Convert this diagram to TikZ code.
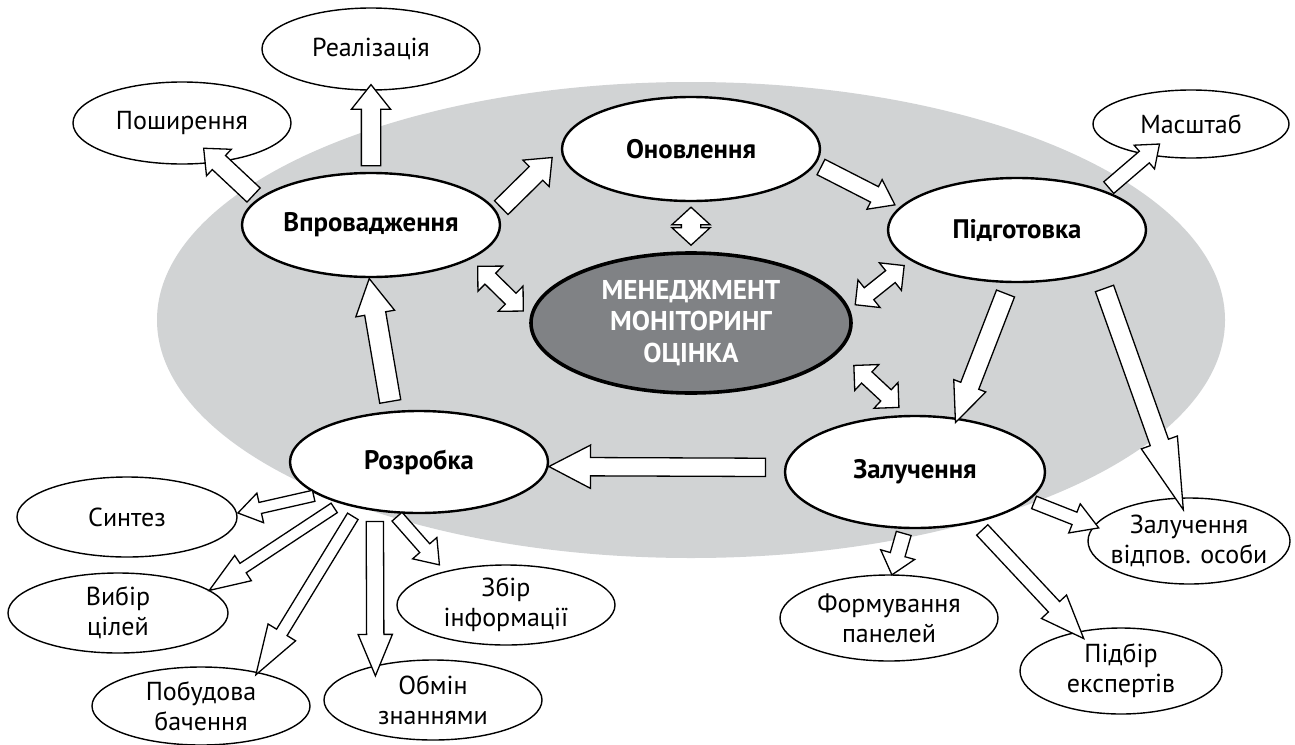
\documentclass[tikz,border=0pt]{standalone}
\usepackage{fontspec}
\setmainfont{PT Sans}
\usetikzlibrary{shapes.geometric,shapes.arrows,calc}

\definecolor{bggray}{RGB}{209,211,212}
\definecolor{coregray}{RGB}{128,130,133}

\tikzset{
  stage/.style={ellipse, draw, line width=1.2pt, fill=white, inner sep=0pt,
    font=\bfseries\fontsize{13.4}{15}\selectfont, minimum width=129pt, minimum height=52pt},
  task/.style={ellipse, draw, line width=0.7pt, fill=white, inner sep=0pt, align=center,
    font=\fontsize{13}{15}\selectfont, minimum width=109pt, minimum height=40pt},
  core/.style={ellipse, draw, line width=1.8pt, fill=coregray, text=white, inner sep=0pt, align=center,
    font=\bfseries\fontsize{13.6}{15.75}\selectfont, minimum width=160pt, minimum height=70pt},
  barrow/.style={single arrow, draw, fill=white, line width=0.65pt, inner xsep=0pt,
    inner ysep=4.5pt, single arrow head extend=5pt, single arrow tip angle=76},
  thinarrow/.style={barrow, inner ysep=3pt, single arrow head extend=4.5pt},
  darrow/.style={double arrow, draw, fill=white, line width=0.65pt, inner xsep=0pt,
    inner ysep=3.5pt, double arrow head extend=5pt, double arrow tip angle=90}
}

% block arrow between two node points, #4 and #5 = gaps at both ends
\newcommand{\blockarrow}[5][barrow]{%
  \path let \p1=($(#2)!#4!(#3)$), \p2=($(#3)!#5!(#2)$),
    \n1={veclen(\x2-\x1,\y2-\y1)} in
    (\p1) -- (\p2) node[midway, sloped, allow upside down, #1, minimum height=\n1] {};}

\begin{document}
\begin{tikzpicture}[x=0.5pt,y=-0.5pt]
\useasboundingbox (0,0) rectangle (1295,744);

% Background
\fill[bggray] (691,320) ellipse [x radius=534, y radius=238];

% Cycle
\node[core] (cen) at (691,323) {МЕНЕДЖМЕНТ\\МОНІТОРИНГ\\ОЦІНКА};
\node[stage] (vpr) at (371,225) {Впровадження};
\node[stage] (onov) at (691,149) {Оновлення};
\node[stage] (pidg) at (1017,230) {Підготовка};
\node[stage, minimum width=130pt, minimum height=56pt] (zal) at (915,472) {Залучення};
\node[stage, minimum height=51pt] (rozr) at (419,462) {Розробка};

% Outer tasks
\node[task, minimum height=41pt] (real) at (371,49) {Реалізація};
\node[task, minimum height=41pt] (posh) at (182,123) {Поширення};
\node[task, minimum width=98pt, minimum height=34pt] (masht) at (1191,124) {Масштаб};
\node[task, minimum width=110pt] (synt) at (127,517) {Синтез};
\node[task, minimum width=110pt] (vybir) at (118,613) {Вибір\\цілей};
\node[task, minimum height=39pt] (pobud) at (201,706) {Побудова\\бачення};
\node[task] (obmin) at (433,700) {Обмін\\знаннями};
\node[task, inner xsep=-2pt] (zbir) at (506,605) {Збір\\інформації};
\node[task, minimum height=43pt] (form) at (889,618) {Формування\\панелей};
\node[task, minimum width=101pt, minimum height=43pt] (pidbir) at (1121,671) {Підбір\\експертів};
\node[task, minimum width=101pt, minimum height=43pt, inner xsep=-5pt] (zalos) at (1189,541) {Залучення\\відпов. особи};

% Cycle arrows
\blockarrow[barrow, single arrow head extend=4.5pt, single arrow tip angle=79]{vpr.6}{onov.180}{0pt}{9pt}
\blockarrow[barrow, inner ysep=4pt, single arrow head extend=4pt, single arrow tip angle=72]{onov.353}{pidg.169}{0pt}{5.5pt}
\blockarrow[barrow, single arrow head extend=3.75pt, single arrow tip angle=47]{pidg.262}{zal.52}{0pt}{3pt}
\blockarrow[barrow, inner ysep=4.25pt, single arrow head extend=6.25pt, single arrow tip angle=55]{zal.178}{rozr.358}{5pt}{4.5pt}
\blockarrow[barrow, inner ysep=5pt, single arrow head extend=4.5pt, single arrow tip angle=58]{rozr.118}{vpr.268}{0pt}{5pt}

% Links to the core
\blockarrow[darrow, inner ysep=4.5pt, double arrow head extend=4.75pt, double arrow tip angle=95]{onov.south}{cen.north}{2.5pt}{3pt}
\blockarrow[darrow]{vpr.341}{cen.178}{5pt}{4.5pt}
\blockarrow[darrow]{pidg.196}{cen.5}{4pt}{3.5pt}
\blockarrow[darrow]{cen.349}{zal.98}{10pt}{5.5pt}

% Implementation
\blockarrow[barrow, single arrow tip angle=77]{vpr.90}{real.270}{0pt}{0pt}
\blockarrow[barrow, single arrow head extend=4.25pt, single arrow tip angle=82]{vpr.167}{posh.313}{0pt}{-7.5pt}

% Preparation
\blockarrow[barrow, inner ysep=3.5pt, single arrow head extend=4pt, single arrow tip angle=76]{pidg.24}{masht.215}{0pt}{-6pt}
\blockarrow[barrow, single arrow head extend=4.75pt, single arrow tip angle=30]{pidg.333}{zalos.103}{0pt}{2.5pt}

% Engagement
\blockarrow[thinarrow, inner ysep=3.5pt, single arrow head extend=5pt, single arrow tip angle=80]{zal.260}{form.86}{0pt}{2pt}
\blockarrow[thinarrow, inner ysep=3.5pt, single arrow head extend=4.75pt, single arrow tip angle=43]{zal.320}{pidbir.138}{0pt}{0pt}
\blockarrow[thinarrow, single arrow tip angle=62]{zal.346}{zalos.171}{0pt}{0pt}

% Development
\blockarrow[thinarrow, inner ysep=2.5pt, single arrow head extend=4.75pt, single arrow tip angle=67]{rozr.198}{synt.2}{0pt}{2.5pt}
\blockarrow[thinarrow, inner ysep=2.5pt, single arrow head extend=4.75pt, single arrow tip angle=41]{rozr.208}{vybir.14}{0pt}{3.5pt}
\blockarrow[thinarrow, inner ysep=2.75pt, single arrow head extend=5pt, single arrow tip angle=36]{rozr.217}{pobud.31}{0pt}{3pt}
\blockarrow[thinarrow, inner ysep=4pt, single arrow head extend=4.25pt, single arrow tip angle=45]{rozr.228}{obmin.149}{0pt}{0pt}
\blockarrow[thinarrow, single arrow head extend=4.75pt, single arrow tip angle=72]{rozr.244}{zbir.151}{0pt}{6.5pt}

\end{tikzpicture}
\end{document}
